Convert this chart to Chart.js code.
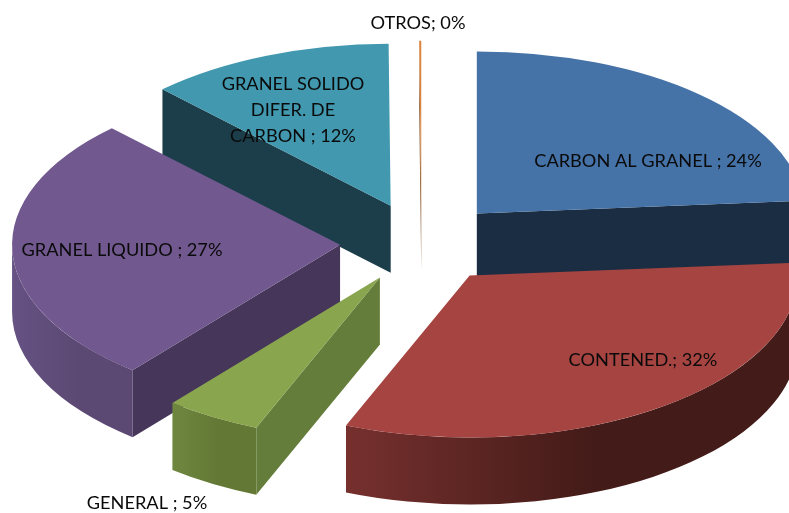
<!DOCTYPE html>
<html lang="es">
<head>
    <meta charset="UTF-8">
    <title>pie 3d</title>
    <style>
        html, body { margin: 0; padding: 0; background: #fff; overflow: hidden; }
        canvas { display: block; }
    </style>
</head>
<body>
<canvas id="mycanvas" width="789" height="513"></canvas>
<script src="https://cdn.jsdelivr.net/npm/chart.js"></script>
<script>
    const categories = ["CARBON AL GRANEL ", "CONTENED.", "GENERAL ", "GRANEL LIQUIDO ", "GRANEL SOLIDO DIFER. DE CARBON ", "OTROS"];
    const shares = [23.75, 32.4, 4.75, 26.85, 12.15, 0.1];

    const topColors = ["#4572a7", "#a64441", "#89a54e", "#71588f", "#4198af", "#db843d"];
    const cutColors = ["#1b2d42", "#431b18", "#647d3a", "#46365a", "#1b3e4a", "#8a5a30"];
    const rimLeft = ["#1b2d42", "#76302e", "#6e873f", "#665283", "#1b3e4a", "#8a5a30"];
    const rimRight = ["#1b2d42", "#431b18", "#637835", "#5b4973", "#1b3e4a", "#8a5a30"];

    // label lines and where each block of text sits (center x, first line y)
    const labelLines = [
        ["CARBON AL GRANEL ; 24%"],
        ["CONTENED.; 32%"],
        ["GENERAL ; 5%"],
        ["GRANEL LIQUIDO ; 27%"],
        ["GRANEL SOLIDO", "DIFER. DE", "CARBON ; 12%"],
        ["OTROS; 0%"]
    ];
    const labelSpots = [[648, 161], [643, 360], [147, 503], [122, 250], [293, 84], [418, 23]];

    const squash = 0.494;  // tilt of the pie
    const explode = 81.5;  // how far the slices are pulled out
    const depth = 67;      // height of the walls

    const pie3d = {
        id: "pie3d",
        beforeDatasetsDraw(chart) {
            const ctx = chart.ctx;
            const arcs = chart.getDatasetMeta(0).data;

            // every slice gets its own apex, back ones are painted first
            const slices = arcs.map((arc, i) => {
                const mid = (arc.startAngle + arc.endAngle) / 2;
                return {
                    arc, i,
                    ax: arc.x + Math.cos(mid) * explode,
                    ay: arc.y + Math.sin(mid) * explode * squash
                };
            }).sort((a, b) => a.ay - b.ay);

            slices.forEach(s => {
                const {arc, i, ax, ay} = s;
                const R = arc.outerRadius;
                const px = a => ax + R * Math.cos(a);
                const py = a => ay + R * squash * Math.sin(a);

                // flat cut faces
                const cut = a => {
                    ctx.beginPath();
                    ctx.moveTo(ax, ay);
                    ctx.lineTo(px(a), py(a));
                    ctx.lineTo(px(a), py(a) + depth);
                    ctx.lineTo(ax, ay + depth);
                    ctx.closePath();
                    ctx.fillStyle = cutColors[i];
                    ctx.fill();
                };
                if (Math.cos(arc.startAngle) < 0) cut(arc.startAngle);
                if (Math.cos(arc.endAngle) > 0) cut(arc.endAngle);

                // round outer wall, only the part turned towards us
                const from = Math.max(arc.startAngle, 0);
                const to = Math.min(arc.endAngle, Math.PI);
                if (to > from) {
                    const grad = ctx.createLinearGradient(Math.min(px(from), px(to)), 0, Math.max(px(from), px(to)), 0);
                    grad.addColorStop(0, rimLeft[i]);
                    grad.addColorStop(0.55, rimRight[i]);
                    grad.addColorStop(1, rimRight[i]);
                    ctx.beginPath();
                    ctx.ellipse(ax, ay, R, R * squash, 0, from, to);
                    ctx.ellipse(ax, ay + depth, R, R * squash, 0, to, from, true);
                    ctx.closePath();
                    ctx.fillStyle = grad;
                    ctx.fill();
                }

                // top face is the library's own arc, just tilted
                ctx.save();
                ctx.translate(ax, ay);
                ctx.scale(1, squash);
                ctx.translate(-arc.x, -arc.y);
                arc.draw(ctx);
                ctx.restore();
            });

            ctx.save();
            ctx.fillStyle = "#0a0a0a";
            ctx.font = "18.2px Lato";
            ctx.textAlign = "center";
            ctx.textBaseline = "middle";
            labelLines.forEach((lines, i) => {
                lines.forEach((line, n) => {
                    ctx.fillText(line, labelSpots[i][0], labelSpots[i][1] + n * 26);
                });
            });
            ctx.restore();
            return false;
        }
    };

    new Chart(document.getElementById("mycanvas"), {
        type: "pie",
        data: {
            labels: categories,
            datasets: [{
                data: shares,
                backgroundColor: topColors,
                borderWidth: 0,
                radius: 328
            }]
        },
        options: {
            responsive: false,
            animation: false,
            layout: {padding: {left: 54, bottom: 27}},
            plugins: {legend: {display: false}, tooltip: {enabled: false}}
        },
        plugins: [pie3d]
    });
</script>
</body>
</html>
